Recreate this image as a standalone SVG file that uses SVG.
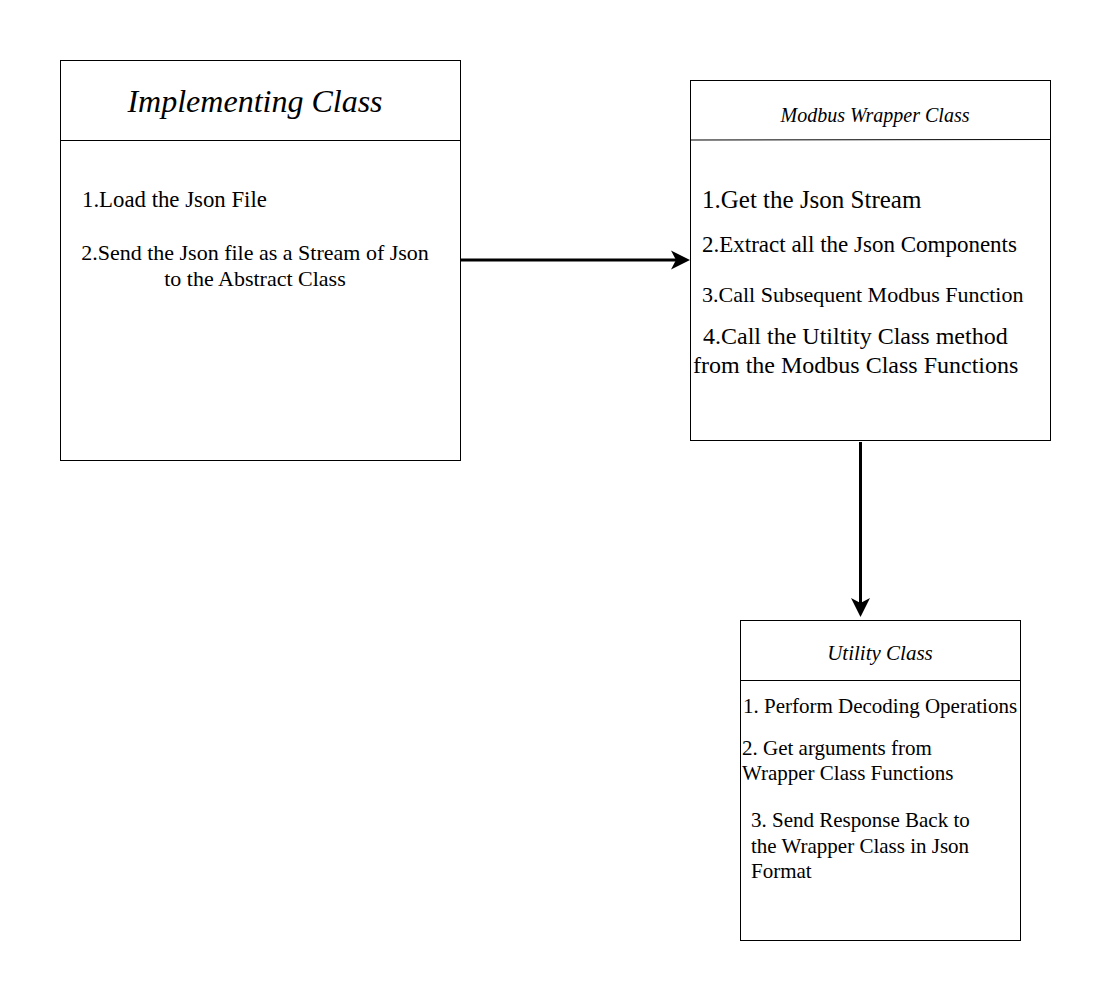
<svg xmlns="http://www.w3.org/2000/svg" width="1112" height="1001" viewBox="0 0 1112 1001">
<style>
.box{fill:#fff;stroke:#000;stroke-width:1}
.t{font-family:"Liberation Serif","Times New Roman",serif;fill:#000}
.it{font-style:italic}
.conn{stroke:#000;stroke-width:3;fill:none}
</style>
<rect width="1112" height="1001" fill="#fff"/>
<g id="implementing">
<rect class="box" x="60.5" y="60.5" width="400" height="400"/>
<line x1="60.5" y1="140.5" x2="460.5" y2="140.5" stroke="#000"/>
<text class="t it" x="255" y="112" font-size="32" text-anchor="middle">Implementing Class</text>
<text class="t" x="82" y="207" font-size="22.8">1.Load the Json File</text>
<text class="t" x="255" y="260" font-size="22" text-anchor="middle">2.Send the Json file as a Stream of Json</text>
<text class="t" x="255" y="286" font-size="22" text-anchor="middle">to the Abstract Class</text>
</g>
<g id="modbus">
<rect class="box" x="690.5" y="80.5" width="360" height="360"/>
<line x1="690.5" y1="140" x2="1050.5" y2="139.5" stroke="#000"/>
<text class="t it" x="875" y="122" font-size="20" text-anchor="middle">Modbus Wrapper Class</text>
<text class="t" x="702" y="207.5" font-size="25">1.Get the Json Stream</text>
<text class="t" x="702" y="251.5" font-size="23">2.Extract all the Json Components</text>
<text class="t" x="702" y="302" font-size="22">3.Call Subsequent Modbus Function</text>
<text class="t" x="703" y="343.5" font-size="24">4.Call the Utiltity Class method</text>
<text class="t" x="693" y="372.5" font-size="24">from the Modbus Class Functions</text>
</g>
<g id="utility">
<rect class="box" x="740.5" y="620.5" width="280" height="320"/>
<line x1="740.5" y1="680.5" x2="1020.5" y2="680.5" stroke="#000"/>
<text class="t it" x="880" y="660" font-size="21" text-anchor="middle">Utility Class</text>
<text class="t" x="743" y="713" font-size="21">1. Perform Decoding Operations</text>
<text class="t" x="742" y="755" font-size="21">2. Get arguments from</text>
<text class="t" x="742" y="780" font-size="21">Wrapper Class Functions</text>
<text class="t" x="751" y="827" font-size="21">3. Send Response Back to</text>
<text class="t" x="751" y="853" font-size="21">the Wrapper Class in Json</text>
<text class="t" x="751" y="878" font-size="21">Format</text>
</g>
<g id="connectors">
<line class="conn" x1="461" y1="260" x2="676" y2="260"/>
<path d="M671,250.5 L690,260 L671,269.5 L676,260 Z" fill="#000"/>
<line class="conn" x1="860.5" y1="442" x2="860.5" y2="603"/>
<path d="M851,598 L860.5,617 L870,598 L860.5,603 Z" fill="#000"/>
</g>
</svg>
